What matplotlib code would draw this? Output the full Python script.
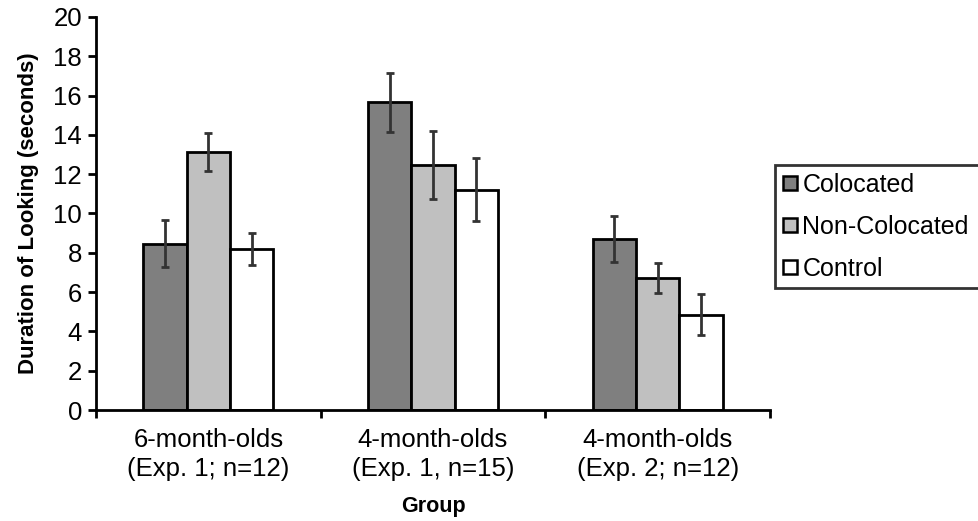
import matplotlib
matplotlib.use("Agg")
import matplotlib.pyplot as plt
import numpy as np

plt.rcParams['font.family'] = ['Liberation Sans', 'DejaVu Sans']

groups = ["6-month-olds\n(Exp. 1; n=12)", "4-month-olds\n(Exp. 1, n=15)", "4-month-olds\n(Exp. 2; n=12)"]
series = ["Colocated", "Non-Colocated", "Control"]
colocated = [8.47, 15.67, 8.68]
noncolocated = [13.13, 12.49, 6.73]
control = [8.2, 11.22, 4.86]
colocated_err = [1.2, 1.5, 1.17]
noncolocated_err = [0.97, 1.73, 0.76]
control_err = [0.8, 1.58, 1.05]
colors = ["#7f7f7f", "#c0c0c0", "#ffffff"]
yticks = [0, 2, 4, 6, 8, 10, 12, 14, 16, 18, 20]

fig = plt.figure(figsize=(9.79, 5.21), dpi=100)
ax = fig.add_axes([96/979, 111/521, (770-96)/979, (410-17)/521])

x = np.arange(len(groups))
w = 0.193
vals = [colocated, noncolocated, control]
errs = [colocated_err, noncolocated_err, control_err]
handles = []
for i, (v, e, c, name) in enumerate(zip(vals, errs, colors, series)):
    ax.bar(x + (i - 1) * w, v, w, color=c, edgecolor="black", linewidth=2.0,
           label=name, zorder=2)
    ax.errorbar(x + (i - 1) * w, v, yerr=e, fmt="none", ecolor="#333333",
                elinewidth=2.0, capsize=3, capthick=2.0, zorder=3)
    handles.append(plt.Line2D([], [], marker="s", linestyle="none", markersize=10,
                              markerfacecolor=c, markeredgecolor="black",
                              markeredgewidth=1.8, label=name))

ax.set_xlim(-0.5, 2.5)
ax.set_ylim(0, 20)
ax.set_yticks(yticks)
ax.set_xticks([-0.5, 0.5, 1.5, 2.5])
ax.set_xticklabels([])
ax.set_xticks(x, minor=True)
ax.set_xticklabels(groups, minor=True, fontsize=18.5, linespacing=1.25)
ax.tick_params(axis="x", which="minor", length=0, pad=13)
ax.tick_params(axis="x", which="major", length=6, width=2, direction="out")
ax.tick_params(axis="y", length=6, width=2, direction="out", labelsize=18.5, pad=4)
for s in ["top", "right"]:
    ax.spines[s].set_visible(False)
for s in ["left", "bottom"]:
    ax.spines[s].set_linewidth(2.0)

ax.set_ylabel("Duration of Looking (seconds)", fontsize=16, fontweight="bold", labelpad=10)
ax.set_xlabel("Group", fontsize=15.5, fontweight="bold", labelpad=11)

leg = fig.legend(handles=handles, loc="upper left", mode="expand",
                 bbox_to_anchor=(775/979, (521-287)/521, 240/979, 122/521), fontsize=18,
                 frameon=True, fancybox=False, edgecolor="black",
                 handlelength=0.6, handletextpad=0.2, labelspacing=0.72,
                 borderpad=0.3, borderaxespad=0)
leg.get_frame().set_linewidth(2.0)

fig.savefig("out.png", dpi=100)
